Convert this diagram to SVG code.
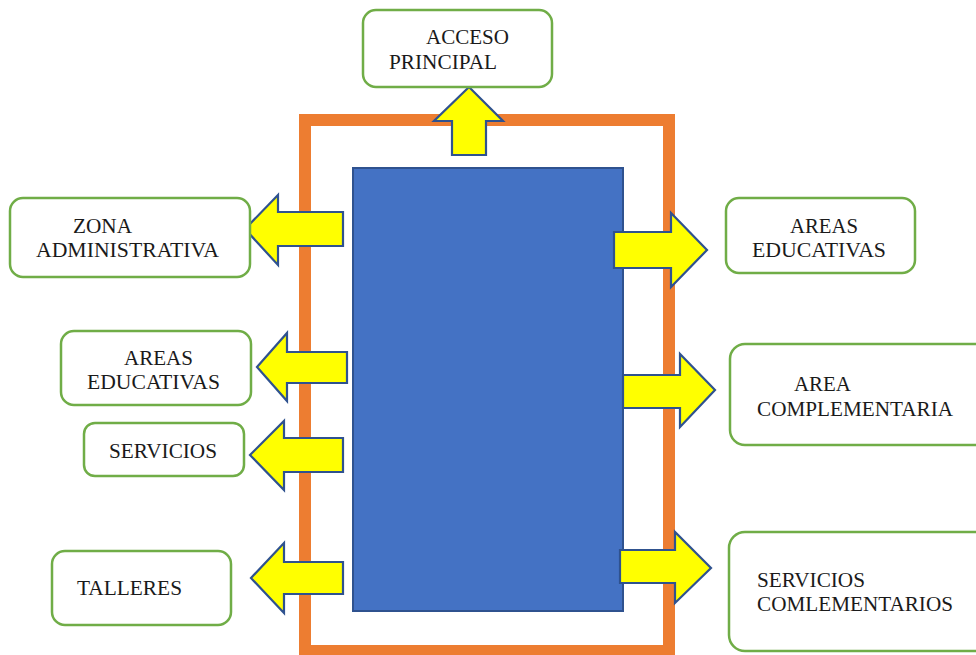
<svg xmlns="http://www.w3.org/2000/svg" width="976" height="655" viewBox="0 0 976 655">
  <style>
    .frame { fill: none; stroke: #ED7D31; stroke-width: 12; }
    .core { fill: #4472C4; stroke: #2F528F; stroke-width: 2; }
    .arrow { fill: #FFFF00; stroke: #2F528F; stroke-width: 2.2; stroke-linejoin: miter; }
    .box { fill: #FFFFFF; stroke: #70AD47; stroke-width: 2.5; }
    text { font-family: 'Liberation Serif', 'DejaVu Serif', serif; font-size: 20px; fill: #1a1a1a; }
  </style>
  <rect width="976" height="655" fill="#FFFFFF"/>

  <!-- building outline and central block -->
  <rect class="frame" x="305" y="120" width="364" height="531"/>
  <rect class="core" x="353" y="168" width="270" height="443"/>

  <!-- block arrows leading to each zone -->
  <g id="connectors">
    <polygon class="arrow" points="452,155 452,121 434,121 469,87 503,121 486,121 486,155"/>
    <polygon class="arrow" points="343,212 278,212 278,195 245,229 278,265 278,246 343,246"/>
    <polygon class="arrow" points="347,352 287,352 287,333 257,367 287,401 287,383 347,383"/>
    <polygon class="arrow" points="343,438 284,438 284,421 250,455 284,490 284,472 343,472"/>
    <polygon class="arrow" points="343,562 284,562 284,543 251,578 284,613 284,594 343,594"/>
    <polygon class="arrow" points="614,232 671,232 671,213 707,250 671,287 671,268 614,268"/>
    <polygon class="arrow" points="623,375 680,375 680,354 715,390 680,427 680,408 623,408"/>
    <polygon class="arrow" points="620,550 675,550 675,532 711,568 675,603 675,583 620,583"/>
  </g>

  <g id="acceso-principal">
    <rect class="box" x="363" y="10" width="189" height="77" rx="13"/>
    <text x="426" y="44" textLength="83" lengthAdjust="spacingAndGlyphs">ACCESO</text>
    <text x="389" y="69" textLength="108" lengthAdjust="spacingAndGlyphs">PRINCIPAL</text>
  </g>

  <g id="zona-administrativa">
    <rect class="box" x="10" y="198" width="240" height="79" rx="13"/>
    <text x="73" y="233" textLength="59" lengthAdjust="spacingAndGlyphs">ZONA</text>
    <text x="36" y="257" textLength="183" lengthAdjust="spacingAndGlyphs">ADMINISTRATIVA</text>
  </g>

  <g id="areas-educativas-izq">
    <rect class="box" x="61" y="331" width="190" height="74" rx="13"/>
    <text x="124" y="365" textLength="69" lengthAdjust="spacingAndGlyphs">AREAS</text>
    <text x="87" y="389" textLength="133" lengthAdjust="spacingAndGlyphs">EDUCATIVAS</text>
  </g>

  <g id="servicios">
    <rect class="box" x="84" y="423" width="160" height="53" rx="11"/>
    <text x="109" y="458" textLength="108" lengthAdjust="spacingAndGlyphs">SERVICIOS</text>
  </g>

  <g id="talleres">
    <rect class="box" x="52" y="551" width="179" height="74" rx="13"/>
    <text x="77" y="595" textLength="105" lengthAdjust="spacingAndGlyphs">TALLERES</text>
  </g>

  <g id="areas-educativas-der">
    <rect class="box" x="726" y="198" width="189" height="75" rx="13"/>
    <text x="790" y="233" textLength="68" lengthAdjust="spacingAndGlyphs">AREAS</text>
    <text x="752" y="257" textLength="134" lengthAdjust="spacingAndGlyphs">EDUCATIVAS</text>
  </g>

  <g id="area-complementaria">
    <rect class="box" x="730" y="344" width="262" height="101" rx="15"/>
    <text x="794" y="391" textLength="57" lengthAdjust="spacingAndGlyphs">AREA</text>
    <text x="757" y="416" textLength="196" lengthAdjust="spacingAndGlyphs">COMPLEMENTARIA</text>
  </g>

  <g id="servicios-complementarios">
    <rect class="box" x="729" y="532" width="262" height="119" rx="16"/>
    <text x="757" y="587" textLength="108" lengthAdjust="spacingAndGlyphs">SERVICIOS</text>
    <text x="757" y="611" textLength="196" lengthAdjust="spacingAndGlyphs">COMLEMENTARIOS</text>
  </g>
</svg>
